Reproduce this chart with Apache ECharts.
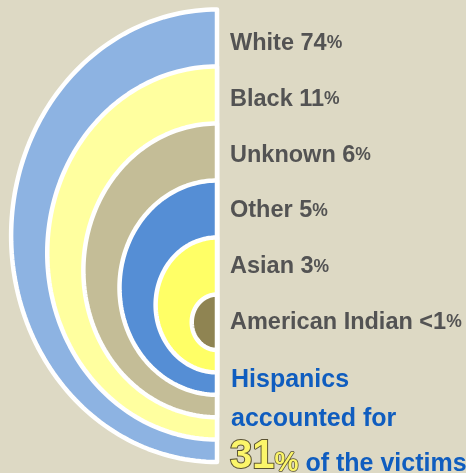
<!DOCTYPE html>
<html><head><meta charset="utf-8">
<script src="https://cdn.jsdelivr.net/npm/echarts@6/dist/echarts.min.js"></script>
<style>html,body{margin:0;padding:0;background:#ddd9c4}#c{width:466px;height:473px}</style>
</head><body><div id="c"></div><script>
// ---- data ----
const categories = ['White', 'Black', 'Unknown', 'Other', 'Asian', 'American Indian'];
const shareValues = [74, 11, 6, 5, 3, 1];
const shareText = ['74', '11', '6', '5', '3', '<1'];
const hispanicShare = 31;
const ringColors = ['#8db3e2', '#ffff9f', '#c4bd97', '#558ed5', '#ffff66', '#8f8452'];

// ---- layout ----
const FONT = "'Liberation Sans', Arial, sans-serif";
const RIGHT = 217, TOP0 = 9.5, TOP_STEP = 57, BOT0 = 462, BOT_STEP = 22.4, ASPECT = 0.91;

function renderRing(params, api) {
  const i = api.value(0);
  const top = TOP0 + TOP_STEP * i, bot = BOT0 - BOT_STEP * i;
  const cy = (top + bot) / 2, vr = (bot - top) / 2, hr = vr * ASPECT;
  const pts = [];
  const N = 120;
  for (let k = 0; k <= N; k++) {
    const t = Math.PI * k / N;
    pts.push(api.coord([RIGHT - hr * Math.sin(t), cy - vr * Math.cos(t)]));
  }
  return {
    type: 'polygon', z2: i,
    shape: { points: pts },
    style: { fill: ringColors[i], stroke: '#ffffff', lineWidth: 4.5, lineJoin: 'round' }
  };
}

const chart = echarts.init(document.getElementById('c'), null, { renderer: 'canvas' });
chart.setOption({
  backgroundColor: '#ddd9c4',
  animation: false,
  grid: [
    { left: 0, right: 0, top: 0, bottom: 0 },
    { left: 0, right: 249, top: 15.5, height: 335 }
  ],
  xAxis: [
    { gridIndex: 0, type: 'value', min: 0, max: 466, show: false },
    { gridIndex: 1, type: 'value', min: 0, max: 1, show: false }
  ],
  yAxis: [
    { gridIndex: 0, type: 'value', min: 0, max: 473, inverse: true, show: false },
    {
      gridIndex: 1, type: 'category', data: categories, inverse: true, position: 'right',
      axisLine: { show: false }, axisTick: { show: false }, splitLine: { show: false },
      axisLabel: {
        margin: 13, align: 'left',
        formatter: (v, idx) => `{n|${v} ${shareText[idx]}}{p|%}`,
        rich: {
          n: { fontFamily: FONT, fontWeight: 'bold', fontSize: 23.5, color: '#535353' },
          p: { fontFamily: FONT, fontWeight: 'bold', fontSize: 17.5, color: '#535353' }
        }
      }
    }
  ],
  series: [{
    type: 'custom', xAxisIndex: 0, yAxisIndex: 0,
    renderItem: renderRing,
    data: categories.map((c, i) => [i, shareValues[i]]),
    silent: true
  }],
  graphic: [
    { type: 'text', left: 231, top: 368, style: { text: 'Hispanics', font: `bold 25px ${FONT}`, fill: '#0f5dbf' } },
    { type: 'text', left: 231, top: 407, style: { text: 'accounted for', font: `bold 25px ${FONT}`, fill: '#0f5dbf' } },
    { type: 'text', left: 229, top: 436, style: {
        text: `{b|${hispanicShare}}{p|%}{r| of the victims}`,
        rich: {
          b: { fontFamily: FONT, fontWeight: 'bold', fontSize: 40, fill: '#fbf56a', stroke: '#5a5232', lineWidth: 2, verticalAlign: 'bottom' },
          p: { fontFamily: FONT, fontWeight: 'bold', fontSize: 27, fill: '#fbf56a', stroke: '#5a5232', lineWidth: 1.5, verticalAlign: 'bottom' },
          r: { fontFamily: FONT, fontWeight: 'bold', fontSize: 25, fill: '#0f5dbf', verticalAlign: 'bottom' }
        }
    } }
  ]
});
</script></body></html>
